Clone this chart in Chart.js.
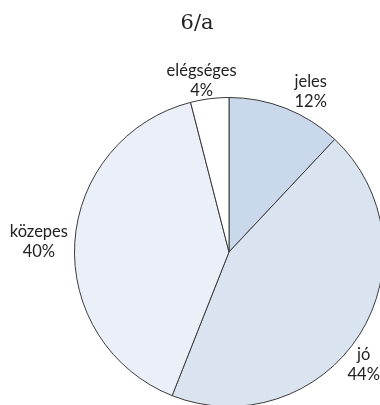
<!DOCTYPE html>
<html>
<head>
<meta charset="utf-8">
<script src="https://cdn.jsdelivr.net/npm/chart.js@4"></script>
<style>
  html, body { margin: 0; padding: 0; background: #fff; overflow: hidden; }
  #wrap { position: absolute; left: 0; top: 0; width: 400px; height: 420px; }
</style>
</head>
<body>
<div id="wrap"><canvas id="chart"></canvas></div>
<script>
// 6/a osztály jegyei
const titleText = '6/a';
const grades = ['jeles', 'jó', 'közepes', 'elégséges'];
const counts = [3, 11, 10, 1];
const sliceColors = ['#c9d8eb', '#dae4f1', '#ebf0f8', '#ffffff'];

const total = counts.reduce((a, b) => a + b, 0);

// title + outside labels with percentages
const labelPlugin = {
    id: 'pieLabels',
    afterDraw: (chart, args, options) => {
        const {ctx} = chart;
        ctx.save();
        ctx.fillStyle = '#222';
        ctx.textAlign = 'center';
        ctx.textBaseline = 'middle';
        ctx.font = '21px "DejaVu Serif"';
        ctx.fillText(titleText, 197, 24);

        ctx.font = '16.5px Lato';
        const arcs = chart.getDatasetMeta(0).data;
        arcs.forEach((arc, i) => {
            const mid = (arc.startAngle + arc.endAngle) / 2;
            const r = arc.outerRadius + 24;
            const nudge = options.nudge[i];
            const x = arc.x + Math.cos(mid) * r + nudge[0];
            const y = arc.y + Math.sin(mid) * r + nudge[1];
            const pct = Math.round(counts[i] / total * 100) + '%';
            ctx.fillText(grades[i], x, y - 10);
            ctx.fillText(pct, x, y + 10);
        });
        ctx.restore();
    }
};

const myChart = new Chart(document.getElementById('chart'), {
    type: 'pie',
    data: {
        labels: grades,
        datasets: [{
            data: counts,
            backgroundColor: sliceColors,
            borderColor: '#3a3a3a',
            borderWidth: 1
        }]
    },
    options: {
        responsive: true,
        maintainAspectRatio: false,
        animation: false,
        layout: {
            padding: {left: 74, top: 97, right: 16, bottom: 13}
        },
        plugins: {
            legend: { display: false },
            tooltip: { enabled: false },
            pieLabels: {
                nudge: [[16, 6], [-16, 17], [-12, 1], [-5, 6]]
            }
        }
    },
    plugins: [labelPlugin]
});
</script>
</body>
</html>
